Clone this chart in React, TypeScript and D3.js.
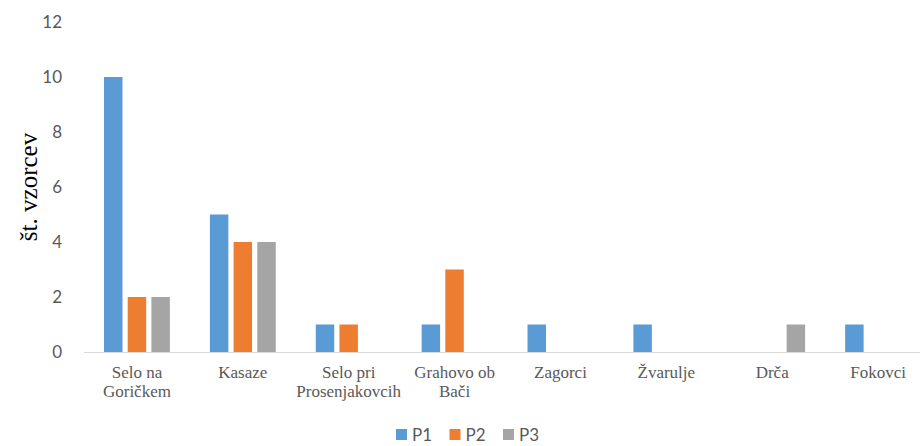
import * as d3 from 'd3';

const categories = [
  'Selo na Goričkem',
  'Kasaze',
  'Selo pri Prosenjakovcih',
  'Grahovo ob Bači',
  'Zagorci',
  'Žvarulje',
  'Drča',
  'Fokovci',
];
const categoryLines = [
  ['Selo na', 'Goričkem'],
  ['Kasaze'],
  ['Selo pri', 'Prosenjakovcih'],
  ['Grahovo ob', 'Bači'],
  ['Zagorci'],
  ['Žvarulje'],
  ['Drča'],
  ['Fokovci'],
];
const seriesNames = ['P1', 'P2', 'P3'];
const p1 = [10, 5, 1, 1, 1, 1, 0, 1];
const p2 = [2, 4, 1, 3, 0, 0, 0, 0];
const p3 = [2, 4, 0, 0, 0, 0, 1, 0];
const yTicks = [0, 2, 4, 6, 8, 10, 12];
const colors = ['#5B9BD5', '#ED7D31', '#A5A5A5'];

export default function App() {
  const width = 920;
  const height = 446;
  const left = 84;
  const right = 931;
  const top = 22;
  const bottom = 352;
  const values = [p1, p2, p3];

  const x = d3.scaleBand<string>().domain(categories).range([left, right]).padding(0);
  const xs = d3
    .scaleBand<string>()
    .domain(seriesNames)
    .range([0, x.bandwidth()])
    .paddingInner(0.22)
    .paddingOuter(0.845);
  const y = d3.scaleLinear().domain([0, 12]).range([bottom, top]);

  const sans = { fontFamily: "'Lato'" };
  const serif = { fontFamily: "'Liberation Serif'" };

  return (
    <svg
      width={width}
      height={height}
      style={{ position: 'absolute', left: 0, top: 0, background: '#fff' }}
    >
      {/* y ticks */}
      {yTicks.map((t) => (
        <text
          key={t}
          x={62}
          y={y(t)}
          dy="0.35em"
          textAnchor="end"
          style={sans}
          fontSize={17}
          fill="#595959"
        >
          {t}
        </text>
      ))}
      <text
        transform={`translate(37,187) rotate(-90)`}
        textAnchor="middle"
        style={serif}
        fontSize={25}
        fill="#000"
      >
        št. vzorcev
      </text>

      {/* bars */}
      {categories.map((c, i) => (
        <g key={c} transform={`translate(${x(c)},0)`}>
          {seriesNames.map((s, j) =>
            values[j][i] > 0 ? (
              <rect
                key={s}
                x={xs(s)}
                y={y(values[j][i])}
                width={xs.bandwidth()}
                height={bottom - y(values[j][i])}
                fill={colors[j]}
              />
            ) : null
          )}
        </g>
      ))}

      <line x1={left} x2={right} y1={bottom + 0.5} y2={bottom + 0.5} stroke="#D9D9D9" strokeWidth={1} />

      {/* category labels */}
      {categories.map((c, i) => (
        <text
          key={c}
          x={(x(c) ?? 0) + x.bandwidth() / 2}
          y={378}
          textAnchor="middle"
          style={serif}
          fontSize={17}
          fill="#595959"
        >
          {categoryLines[i].map((ln, k) => (
            <tspan key={k} x={(x(c) ?? 0) + x.bandwidth() / 2} dy={k === 0 ? 0 : 18.5}>
              {ln}
            </tspan>
          ))}
        </text>
      ))}

      {/* legend */}
      {seriesNames.map((s, j) => {
        const lx = 396 + j * 53.5;
        return (
          <g key={s}>
            <rect x={lx} y={429} width={11} height={11} fill={colors[j]} />
            <text x={lx + 16} y={441} style={sans} fontSize={17} fill="#595959">
              {s}
            </text>
          </g>
        );
      })}
    </svg>
  );
}
